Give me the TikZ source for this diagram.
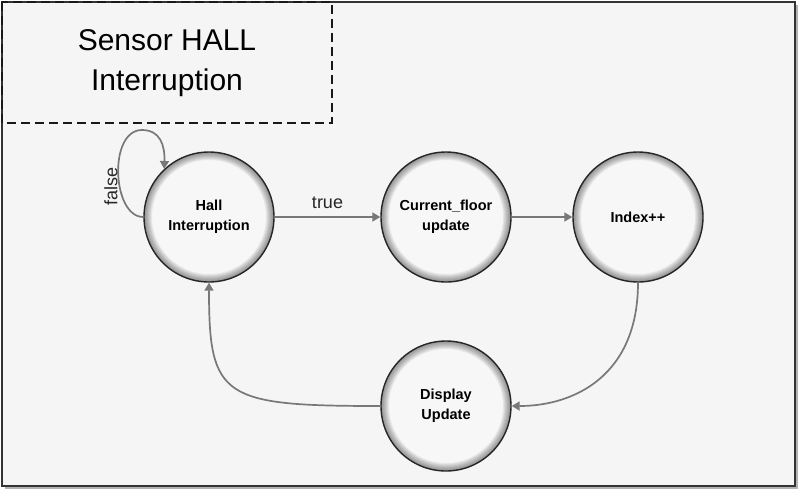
\documentclass[tikz,border=0pt]{standalone}
\usepackage{fontspec}
\setmainfont{Liberation Sans}
\usetikzlibrary{arrows.meta,shadows}

\definecolor{paper}{HTML}{F5F5F5}
\definecolor{flowgray}{HTML}{787878}

\begin{document}
\begin{tikzpicture}[x=1pt, y=-1pt,
    state/.style={circle, minimum size=130pt, inner sep=0pt, draw=black!85, line width=1.4pt,
        fill=white!97!black, align=center, font=\fontsize{14.5}{20}\selectfont\bfseries,
        path picture={\foreach \w in {2,4,...,16}
            \draw[black, opacity=0.06, line width=\w pt] (path picture bounding box.center) circle (65pt);}},
    flow/.style={draw=flowgray, line width=1.7pt, -{Triangle[length=8pt,width=9pt]}},
    lbl/.style={font=\fontsize{18}{20}\selectfont, text=black!85}]
    \useasboundingbox (0,0) rectangle (800,491);

    % Frame and title box
    \draw[black!80, line width=2pt, fill=paper,
        drop shadow={shadow xshift=2.5pt, shadow yshift=-2.5pt, opacity=0.6}] (2,2) rectangle (795,486);
    \draw[black!90, line width=1.4pt, dash pattern=on 9pt off 5pt] (2,2) rectangle (332,123);
    \node[align=center, font=\fontsize{30}{40}\selectfont] (title) at (167,63) {Sensor HALL\\Interruption};

    % States
    \node[state] (hall) at (209,217) {Hall\\Interruption};
    \node[state] (curfloor) at (446,217) {Current\_floor\\update};
    \node[state] (index) at (638,217) {Index++};
    \node[state] (display) at (446,406) {Display\\Update};

    % Transitions
    \draw[flow] (hall) -- node[lbl, above=4pt] (truelbl) {true} (curfloor);
    \draw[flow] (curfloor) -- (index);
    \draw[flow] (index.south) .. controls (638,375) and (575,406) .. (display.east);
    \draw[flow] (display.west) .. controls (222,406) and (209,398) .. (hall.south);
    \draw[flow] (hall.west) .. controls (112,217) and (108,130) .. (142,130)
        .. controls (160,130) and (165,145) .. (hall.133);
    \node[lbl, rotate=90] (falselbl) at (111,186) {false};
\end{tikzpicture}
\end{document}
